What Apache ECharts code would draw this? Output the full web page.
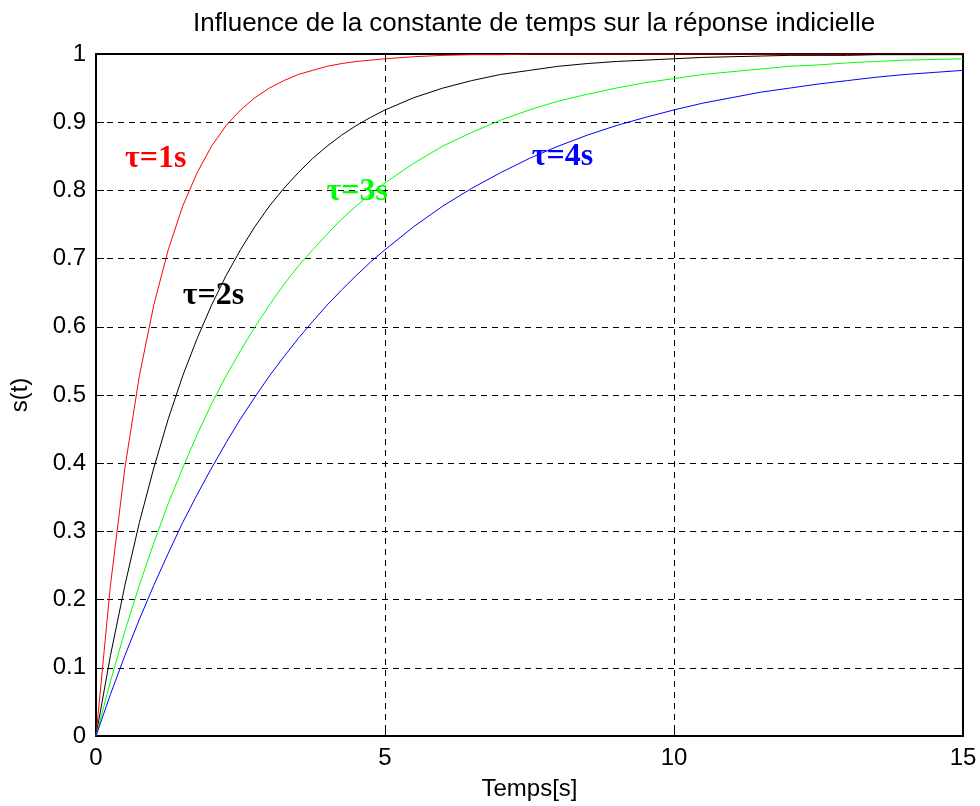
<!DOCTYPE html>
<html>
<head>
<meta charset="utf-8">
<script src="https://cdn.jsdelivr.net/npm/echarts@6/dist/echarts.min.js"></script>
<style>
html,body{margin:0;padding:0;background:#fff;}
#chart{width:980px;height:806px;}
</style>
</head>
<body>
<div id="chart"></div>
<script>
// Time samples (s)
var timeValues = [0,0.25,0.5,0.75,1,1.25,1.5,1.75,2,2.25,2.5,2.75,3,3.25,3.5,3.75,4,4.25,4.5,4.75,5,
  5.5,6,6.5,7,7.5,8,8.5,9,9.5,10,10.5,11,11.5,12,12.5,13,13.5,14,14.5,15];
// s(t), tau = 1 s
var tau1Values = [0,0.221,0.393,0.528,0.632,0.713,0.777,0.826,0.865,0.895,0.918,0.936,0.950,0.961,0.970,0.976,0.982,0.986,0.989,0.991,0.993,
  0.996,0.998,0.999,0.999,1,1,1,1,1,1,1,1,1,1,1,1,1,1,1,1];
// tau = 2 s
var tau2Values = [0,0.118,0.221,0.313,0.393,0.465,0.528,0.583,0.632,0.675,0.713,0.747,0.777,0.803,0.826,0.847,0.865,0.881,0.895,0.907,0.918,
  0.936,0.950,0.961,0.970,0.976,0.982,0.986,0.989,0.991,0.993,0.995,0.996,0.997,0.998,0.998,0.998,0.999,0.999,0.999,0.999];
// tau = 3 s
var tau3Values = [0,0.080,0.154,0.221,0.283,0.341,0.393,0.442,0.487,0.528,0.565,0.600,0.632,0.662,0.689,0.713,0.736,0.758,0.777,0.795,0.811,
  0.840,0.865,0.885,0.903,0.918,0.931,0.941,0.950,0.958,0.964,0.970,0.974,0.978,0.982,0.984,0.987,0.989,0.991,0.992,0.993];
// tau = 4 s
var tau4Values = [0,0.061,0.118,0.171,0.221,0.268,0.313,0.354,0.393,0.430,0.465,0.497,0.528,0.556,0.583,0.608,0.632,0.654,0.675,0.695,0.713,
  0.747,0.777,0.803,0.826,0.847,0.865,0.881,0.895,0.907,0.918,0.928,0.936,0.944,0.950,0.956,0.961,0.966,0.970,0.973,0.976];

var seriesNames = ['τ=1s','τ=2s','τ=3s','τ=4s'];
var seriesColors = ['#ff0000','#000000','#00ff00','#0000ff'];
// label anchor positions in data units
var labelX = [1.04, 2.04, 4.53, 8.08];
var labelY = [0.846, 0.645, 0.797, 0.848];

function pairs(xs, ys){ return xs.map(function(x,i){ return [x, ys[i]]; }); }

var allValues = [tau1Values, tau2Values, tau3Values, tau4Values];
var series = [];
allValues.forEach(function(vals, i){
  series.push({
    type:'line', name: seriesNames[i], data: pairs(timeValues, vals),
    showSymbol:false, symbol:'none', smooth:false,
    lineStyle:{color:seriesColors[i], width:1}, itemStyle:{color:seriesColors[i]},
    z: 3
  });
});
seriesNames.forEach(function(nm, i){
  series.push({
    type:'scatter', data:[[labelX[i], labelY[i]]], symbolSize:1, silent:true, z:5,
    itemStyle:{color:'rgba(0,0,0,0)'},
    label:{show:true, position:[0,0], align:'center', verticalAlign:'middle',
      formatter: nm, color: seriesColors[i], opacity:1, textBorderWidth:0,
      fontFamily:'Liberation Serif, Times New Roman, serif', fontWeight:'bold', fontSize:32}
  });
});

var labelFont = 'Liberation Sans, Arial, sans-serif';
var chart = echarts.init(document.getElementById('chart'));
chart.setOption({
  animation:false,
  backgroundColor:'#ffffff',
  title:{text:'Influence de la constante de temps sur la réponse indicielle', left:188, top:6,
    textStyle:{fontFamily:labelFont, fontWeight:'normal', fontSize:26, color:'#000'}},
  grid:{left:94, right:17, top:54, bottom:69},
  xAxis:[{
    type:'value', min:0, max:15, interval:5, position:'bottom',
    name:'Temps[s]', nameLocation:'middle', nameGap:41,
    nameTextStyle:{fontFamily:labelFont, fontSize:24, color:'#000'},
    axisLine:{show:true, onZero:false, lineStyle:{color:'#000', width:2}},
    axisTick:{show:true, inside:true, length:8, lineStyle:{color:'#000'}},
    axisLabel:{fontFamily:labelFont, fontSize:24, color:'#000', margin:10},
    splitLine:{show:true, lineStyle:{color:'#000', type:[6,5], width:1}}
  },{
    type:'value', min:0, max:15, interval:5, position:'top',
    axisLine:{show:true, onZero:false, lineStyle:{color:'#000', width:2}},
    axisTick:{show:true, inside:true, length:8, lineStyle:{color:'#000'}},
    axisLabel:{show:false}, splitLine:{show:false}
  }],
  yAxis:[{
    type:'value', min:0, max:1, interval:0.1, position:'left',
    name:'s(t)', nameLocation:'middle', nameGap:64, nameRotate:90,
    nameTextStyle:{fontFamily:labelFont, fontSize:24, color:'#000'},
    axisLine:{show:true, onZero:false, lineStyle:{color:'#000', width:2}},
    axisTick:{show:true, inside:true, length:8, lineStyle:{color:'#000'}},
    axisLabel:{fontFamily:labelFont, fontSize:24, color:'#000', margin:10,
      formatter:function(v){ return String(Math.round(v*10)/10); }},
    splitLine:{show:true, lineStyle:{color:'#000', type:[6,5], width:1}}
  },{
    type:'value', min:0, max:1, interval:0.1, position:'right',
    axisLine:{show:true, onZero:false, lineStyle:{color:'#000', width:2}},
    axisTick:{show:true, inside:true, length:8, lineStyle:{color:'#000'}},
    axisLabel:{show:false}, splitLine:{show:false}
  }],
  series: series
});
</script>
</body>
</html>
